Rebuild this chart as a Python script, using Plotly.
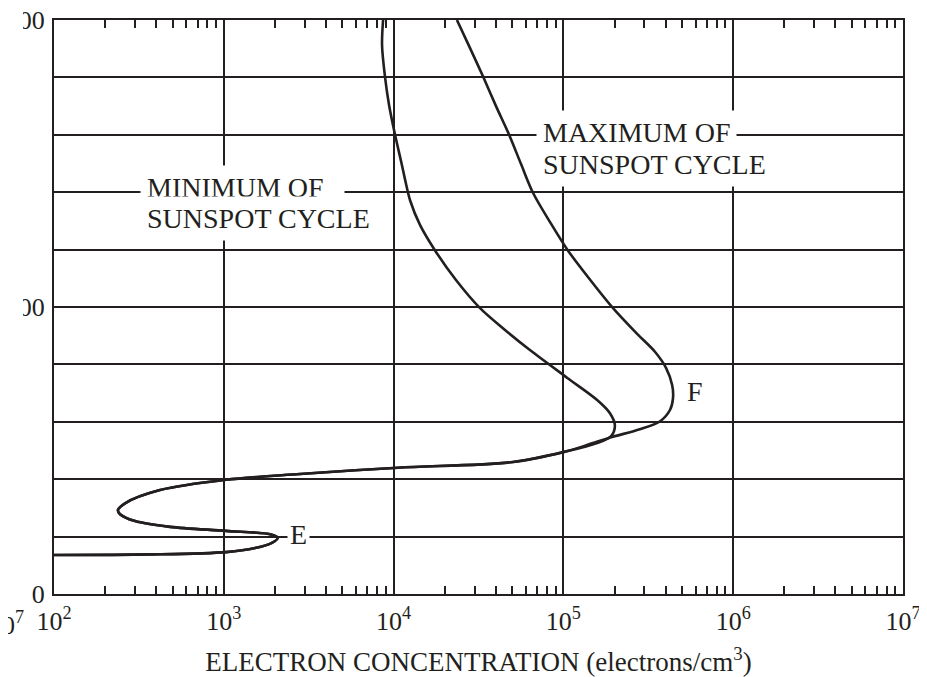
import plotly.graph_objects as go

ink = '#231f20'
serif = 'Liberation Serif'

# altitude (km) and electron concentration (electrons/cm^3)
# lower part (E region) is shared by both profiles
commonAlt = [68, 69, 73, 80, 89, 98, 104, 110, 117, 127, 139, 146, 158, 181, 199, 209, 220, 230, 249]
commonConc = [1.00e2, 3.67e2, 1.03e3, 1.53e3, 1.92e3, 2.08e3, 1.87e3, 1.03e3, 4.82e2, 3.00e2, 2.45e2, 2.38e2,
              2.62e2, 4.21e2, 1.03e3, 2.81e3, 1.06e4, 5.05e4, 1.06e5]

minAlt = [263, 275, 294, 315, 338, 376, 425, 460, 498, 547, 599, 643, 686, 721, 747, 800, 852, 901, 956, 1000]
minConc = [1.58e5, 1.91e5, 2.01e5, 1.88e5, 1.58e5, 1.06e5, 6.35e4, 4.53e4, 3.23e4, 2.33e4, 1.75e4, 1.43e4, 1.25e4,
           1.17e4, 1.12e4, 1.02e4, 9.4e3, 8.9e3, 8.55e3, 8.67e3]

maxAlt = [263, 274, 287, 301, 321, 341, 364, 394, 422, 455, 498, 547, 599, 648, 699, 749, 800, 850, 901, 951, 1000]
maxConc = [1.49e5, 1.96e5, 2.82e5, 3.71e5, 4.25e5, 4.42e5, 4.37e5, 4.02e5, 3.46e5, 2.68e5, 1.96e5, 1.44e5, 1.06e5,
           8.34e4, 6.62e4, 5.63e4, 4.79e4, 4.01e4, 3.37e4, 2.82e4, 2.36e4]

decades = [1e2, 1e3, 1e4, 1e5, 1e6, 1e7]
decadeText = ['10<sup>2</sup>', '10<sup>3</sup>', '10<sup>4</sup>', '10<sup>5</sup>', '10<sup>6</sup>', '10<sup>7</sup>']
minorVals = [m * d for d in decades[:-1] for m in range(2, 10)]
altTicks = list(range(0, 1001, 100))
altText = ['0', '', '', '', '', '500', '', '', '', '', '1000']

fig = go.Figure()
for conc, alt in [(commonConc + minConc, commonAlt + minAlt), (commonConc + maxConc, commonAlt + maxAlt)]:
    fig.add_trace(go.Scatter(x=conc, y=alt, mode='lines', line=dict(color=ink, width=2.6, shape='spline', smoothing=0.9),
                             showlegend=False, hoverinfo='skip'))

labelFont = dict(family=serif, size=28, color=ink)
# each label line gets its own white box so the grid is broken only behind the words
for lx, ly, txt in [(2.506, 709, 'MINIMUM OF&nbsp;&nbsp;'), (2.506, 655, 'SUNSPOT CYCLE'),
                    (4.839, 804, 'MAXIMUM OF'), (4.839, 748, 'SUNSPOT CYCLE')]:
    fig.add_annotation(x=lx, y=ly, text=txt, xanchor='left', align='left', showarrow=False,
                       font=labelFont, bgcolor='white', borderpad=6)
fig.add_annotation(x=5.775, y=352, text='F', showarrow=False, font=labelFont)
fig.add_annotation(x=3.437, y=104, text='E', showarrow=False, font=labelFont, bgcolor='white', borderpad=2)
# edge of the neighbouring panel's tick label, cut by the page edge
fig.add_annotation(xref='paper', yref='paper', x=-0.033, y=-0.052, text='10<sup>7</sup>', xanchor='right',
                   yanchor='middle', showarrow=False, font=dict(family=serif, size=26, color=ink))

# white mask that cuts the left part of the upper altitude labels, as in the source
fig.add_shape(type='rect', xref='paper', yref='paper', x0=-0.07, x1=-0.0365, y0=0.45, y1=1.05,
              fillcolor='white', line_width=0, layer='above')

# the page body adds an 8px offset, so the figure is a little smaller than the window
fig.update_layout(
    width=919, height=669, margin=dict(l=46, r=24, t=12, b=83, autoexpand=False),
    plot_bgcolor='white', paper_bgcolor='white',
    font=dict(family=serif, size=26, color=ink),
    xaxis=dict(type='log', range=[2, 7], tickvals=decades, ticktext=decadeText, ticks='', ticklen=0,
               ticklabelstandoff=3,
               showgrid=True, gridcolor=ink, gridwidth=2, showline=True, linecolor=ink, linewidth=2, mirror='ticks',
               minor=dict(tickvals=minorVals, ticks='inside', ticklen=8, tickwidth=2, tickcolor=ink, showgrid=False),
               title=dict(text='ELECTRON CONCENTRATION (electrons/cm<sup>3</sup>)', font=dict(size=27), standoff=17),
               zeroline=False, automargin=False, ticklabeloverflow='allow'),
    yaxis=dict(range=[0, 1000], tickvals=altTicks, ticktext=altText, ticks='', ticklabelstandoff=2,
               showgrid=True, gridcolor=ink, gridwidth=2, showline=True, linecolor=ink, linewidth=2, mirror=True,
               zeroline=False, automargin=False, ticklabeloverflow='allow'),
)

fig.write_html('out.html')
